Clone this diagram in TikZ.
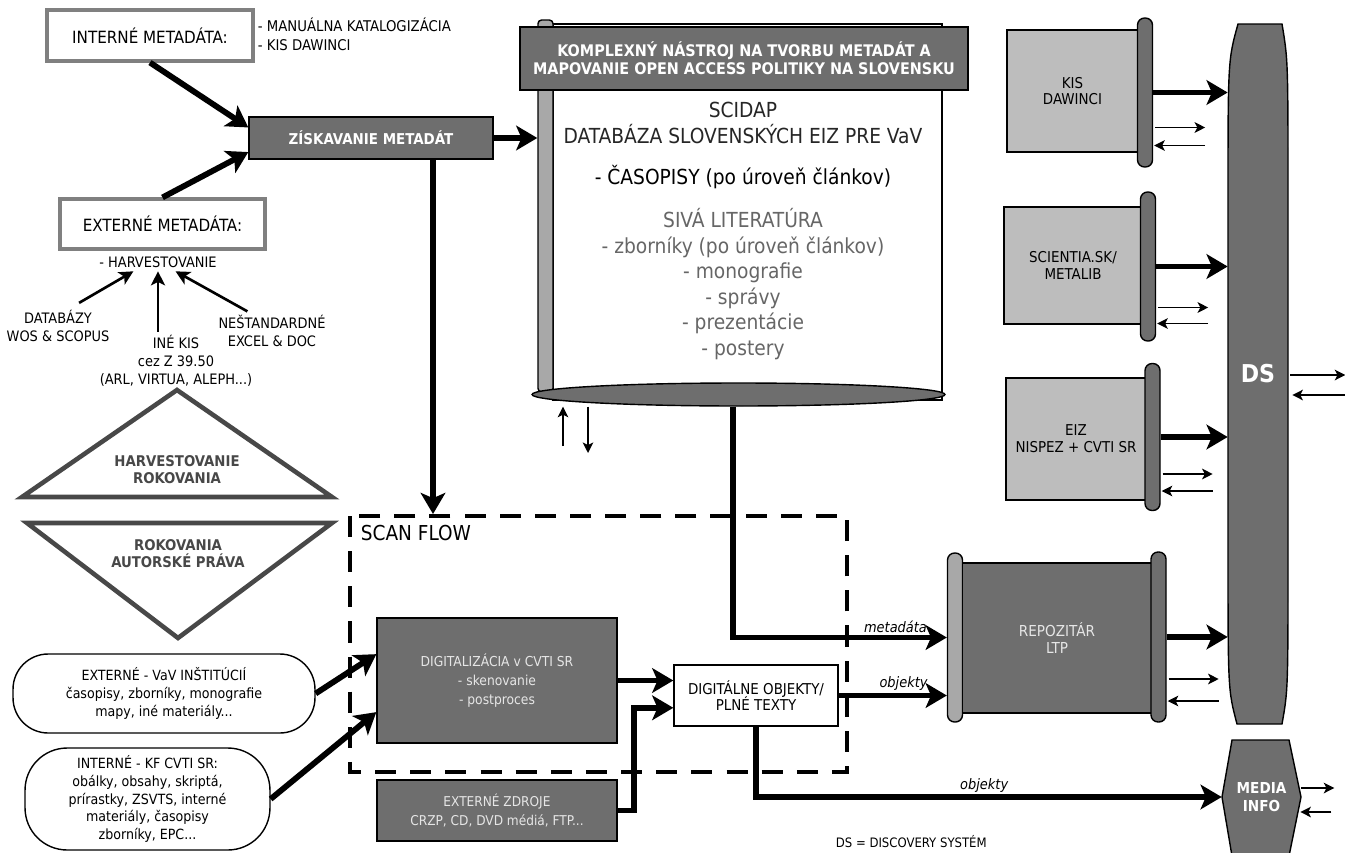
\documentclass[tikz,border=0pt]{standalone}
\usepackage{fontspec}
\setmainfont{DejaVu Sans Condensed}
\usetikzlibrary{arrows.meta,shapes.geometric,calc}
\definecolor{darkfill}{HTML}{6E6E6E}
\definecolor{lightfill}{HTML}{BDBDBD}
\definecolor{capfill}{HTML}{A8A8A8}
\definecolor{greytext}{HTML}{666666}
\definecolor{rimgray}{HTML}{808080}
\definecolor{tridraw}{HTML}{484848}
\definecolor{paletext}{HTML}{E6E6E6}
\begin{document}
\begin{tikzpicture}[x=0.02cm, y=-0.02cm,
    every node/.style={align=center, inner sep=2pt, font=\fontsize{8.2}{10.2}\selectfont},
    metabox/.style={draw=rimgray, line width=1.8pt, fill=white, font=\fontsize{9.6}{11}\selectfont},
    darkbox/.style={draw=black, fill=darkfill, text=paletext, line width=0.8pt},
    lightbox/.style={draw=black, fill=lightfill, line width=0.8pt, font=\fontsize{8.5}{9.6}\selectfont},
    capbar/.style={draw=black, fill=darkfill, rounded corners=4pt, minimum width=0.3cm, line width=0.8pt},
    fat/.style={line width=3.3pt, -{Stealth[length=12pt,width=14pt,inset=3pt]}},
    slim/.style={line width=1.1pt, -{Stealth[length=6pt,width=6pt,inset=1.5pt]}},
    medarrow/.style={line width=1.5pt, -{Stealth[length=8pt,width=8pt,inset=2pt]}},
    tri/.style={draw=tridraw, line width=2.6pt, line join=miter, fill=white},
    tritext/.style={text=tridraw, font=\bfseries\fontsize{8.4}{9.6}\selectfont},
    lbl/.style={font=\itshape\fontsize{8.2}{9}\selectfont, inner sep=1pt, anchor=south},
    dashbox/.style={line width=2pt, dash pattern=on 12pt off 8pt}]
\useasboundingbox (0,0) rectangle (1345,852);

%metadata sources
\node[metabox, minimum width=4.12cm, minimum height=1.02cm] (intmeta) at (150,35.5) {INTERNÉ METADÁTA:};
\node[anchor=north west, align=left, font=\fontsize{8.4}{10.6}\selectfont] (intlist) at (254,14) {- MANUÁLNA KATALOGIZÁCIA\\- KIS DAWINCI};
\node[metabox, minimum width=4.1cm, minimum height=1.0cm] (extmeta) at (162.5,224) {EXTERNÉ METADÁTA:};
\node (harv) at (158,262) {- HARVESTOVANIE};
\node (dbs) at (58,326) {DATABÁZY\\WOS \& SCOPUS};
\node (inekis) at (176,361) {INÉ KIS\\cez Z 39.50\\(ARL, VIRTUA, ALEPH...)};
\node (nestand) at (272,331) {NEŠTANDARDNÉ\\EXCEL \& DOC};
\node[darkbox, text=white, minimum width=4.88cm, minimum height=0.84cm, font=\bfseries\fontsize{8.5}{10}\selectfont] (ziskavanie) at (371,138) {ZÍSKAVANIE METADÁT};

%triangles
\draw[tri] (177,390) -- (332,497) -- (22,497) -- cycle;
\node[tritext] (harvrok) at (177,470) {HARVESTOVANIE\\ROKOVANIA};
\draw[tri] (27,523) -- (332,523) -- (178,638) -- cycle;
\node[tritext] (autor) at (178,554) {ROKOVANIA\\AUTORSKÉ PRÁVA};

%scroll
\node[draw=black, fill=white, line width=0.8pt, minimum width=7.78cm, minimum height=7.52cm] (scroll) at (747.5,212) {};
\node[draw=black, fill=capfill, line width=0.8pt, rounded corners=2pt, minimum width=0.3cm, minimum height=7.44cm] (bar) at (545.5,206) {};
\node[darkbox, text=white, minimum width=8.96cm, minimum height=1.26cm, font=\bfseries\fontsize{9.1}{10.4}\selectfont] (banner) at (744,58.5) {KOMPLEXNÝ NÁSTROJ NA TVORBU METADÁT A\\MAPOVANIE OPEN ACCESS POLITIKY NA SLOVENSKU};
\node[ellipse, draw=black, fill=darkfill, line width=0.8pt, minimum width=8.26cm, minimum height=0.46cm] (base) at (738.5,394.5) {};
\node[text=black!85, font=\fontsize{11.8}{14.5}\selectfont] (scidap) at (743,231) {SCIDAP\\DATABÁZA SLOVENSKÝCH EIZ PRE VaV\\[9pt]\textcolor{black}{- ČASOPISY (po úroveň článkov)}\\[10pt]\textcolor{greytext}{SIVÁ LITERATÚRA}\\\textcolor{greytext}{- zborníky (po úroveň článkov)}\\\textcolor{greytext}{- monografie}\\\textcolor{greytext}{- správy}\\\textcolor{greytext}{- prezentácie}\\\textcolor{greytext}{- postery}};

%discovery systems
\draw[fill=darkfill, line width=0.8pt] (1238,24) -- (1282,24) .. controls (1288,60) .. (1288,200) -- (1288,550) .. controls (1288,690) .. (1282,724) -- (1237,724) .. controls (1228,690) .. (1228,550) -- (1228,200) .. controls (1228,60) .. (1238,24) -- cycle;
\node[text=white, minimum width=1.2cm, minimum height=14cm, font=\bfseries\fontsize{14}{15}\selectfont] (ds) at (1258,374) {DS};
\node[lightbox, minimum width=2.62cm, minimum height=2.44cm] (kis) at (1072.5,91) {KIS\\DAWINCI};
\node[capbar, minimum height=2.98cm] (kiscap) at (1145,92.5) {};
\node[lightbox, minimum width=2.76cm, minimum height=2.34cm] (sci) at (1073,265.5) {SCIENTIA.SK/\\METALIB};
\node[capbar, minimum height=2.98cm] (scicap) at (1148,266.5) {};
\node[lightbox, minimum width=2.8cm, minimum height=2.44cm] (eiz) at (1076,439) {EIZ\\NISPEZ + CVTI SR};
\node[capbar, minimum height=2.94cm] (eizcap) at (1152.5,437) {};

%repository
\node[capbar, fill=capfill, minimum height=3.38cm] (repoL) at (955,637.5) {};
\node[darkbox, minimum width=3.78cm, minimum height=3.0cm, font=\fontsize{8.6}{10}\selectfont] (repo) at (1057,638) {REPOZITÁR\\LTP};
\node[capbar, minimum height=3.4cm] (repoR) at (1158.5,637) {};
\draw[fill=darkfill, line width=0.8pt] (1232,740) -- (1289,740) -- (1301,797) -- (1289,856) -- (1232,856) -- (1222,797) -- cycle;
\node[text=white, minimum width=1.58cm, font=\bfseries\fontsize{8.6}{10}\selectfont] (media) at (1261.5,797) {MEDIA\\INFO};

%scan flow
\draw[dashbox] (350,516) rectangle (847,772);
\node[anchor=west, font=\fontsize{11.7}{12}\selectfont] (scanflow) at (357,533) {SCAN FLOW};
\node[darkbox, minimum width=4.8cm, minimum height=2.5cm, font=\fontsize{7.8}{10.8}\selectfont] (digit) at (497,680.5) {DIGITALIZÁCIA v CVTI SR\\- skenovanie\\- postproces};
\node[draw=black, fill=white, line width=0.8pt, minimum width=3.28cm, minimum height=1.22cm, font=\fontsize{8.5}{9.6}\selectfont] (digobj) at (756,695.5) {DIGITÁLNE OBJEKTY/\\PLNÉ TEXTY};
\node[darkbox, minimum width=4.8cm, minimum height=1.22cm, font=\fontsize{7.7}{10.6}\selectfont] (extzdroje) at (497,810.5) {EXTERNÉ ZDROJE\\CRZP, CD, DVD médiá, FTP...};
\node[draw=black, line width=0.8pt, rounded corners=20pt, minimum width=6.04cm, minimum height=1.58cm, font=\fontsize{8}{10.2}\selectfont] (extvav) at (164,693.5) {EXTERNÉ - VaV INŠTITÚCIÍ\\časopisy, zborníky, monografie\\mapy, iné materiály...};
\node[draw=black, line width=0.8pt, rounded corners=24pt, minimum width=4.9cm, minimum height=2.04cm, font=\fontsize{8}{10.2}\selectfont] (intkf) at (147.5,799) {INTERNÉ - KF CVTI SR:\\obálky, obsahy, skriptá,\\prírastky, ZSVTS, interné\\materiály, časopisy\\zborníky, EPC...};
\node[anchor=west, font=\fontsize{7.4}{8}\selectfont] (legend) at (832,842) {DS = DISCOVERY SYSTÉM};

%coordinates
\coordinate (scantop) at (433,514);
\coordinate (upin) at (563,446);
\coordinate (downout) at (588,453);
\coordinate (mdx) at (733,400);

%connectors
\draw[fat] (intmeta.south) -- ([yshift=6pt]ziskavanie.west);
\draw[fat] (extmeta.north) -- ([yshift=-8pt]ziskavanie.west);
\draw[fat] (ziskavanie.east) -- (ziskavanie.east -| bar.west);
\draw[fat] (scantop |- ziskavanie.south) -- (scantop);
\draw[medarrow] ([xshift=12pt,yshift=2pt]dbs.north) -- ([xshift=-14pt]harv.south);
\draw[medarrow] (harv.south |- inekis.north) -- (harv.south);
\draw[medarrow] ([xshift=-14pt]nestand.north) -- ([xshift=10pt]harv.south);
\draw[slim] (upin) -- (upin |- base.south);
\draw[slim] (downout |- base.south) -- (downout);
\draw[fat] (base.south -| mdx) |- (repoL.west) node[lbl, pos=0.88] {metadáta};
\draw[fat] (digobj.east) -- (digobj.east -| repoL.west) node[lbl, pos=0.6] {objekty};
\draw[fat] (digobj.south) |- (media.west) node[lbl, pos=0.745] {objekty};
\draw[fat] (extvav.east) -- ([yshift=15pt]digit.west);
\draw[fat] (intkf.east) -- ([yshift=-18pt]digit.west);
\draw[fat] (digit.east) -- (digit.east -| digobj.west);
\draw[fat] (extzdroje.east) -- ++(16,0) |- ([yshift=-7pt]digobj.west);
\foreach \c/\a/\b in {kiscap/35/53, scicap/41/57, eizcap/37/54, repoR/42/64} {
  \draw[fat] (\c.east) -- (\c.east -| ds.west);
  \draw[slim] ($(\c.east)+(2,\a)$) -- ++(50,0);
  \draw[slim] ($(\c.east)+(52,\b)$) -- ($(\c.east)+(1,\b)$);
}
\draw[slim] ($(ds.east)+(2,1)$) -- ++(55,0);
\draw[slim] ($(ds.east)+(57,21)$) -- ($(ds.east)+(4,21)$);
\draw[slim] ($(media.east)+(0,-9)$) -- ++(33,0);
\draw[slim] ($(media.east)+(30,15)$) -- ($(media.east)+(-1,15)$);
\end{tikzpicture}
\end{document}
